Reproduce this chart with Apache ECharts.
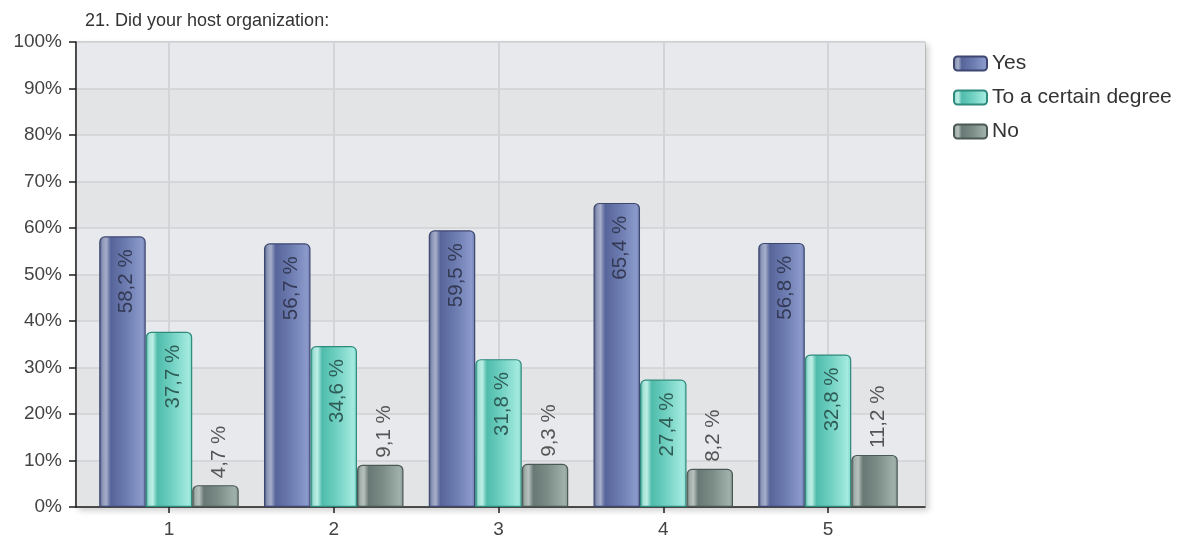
<!DOCTYPE html>
<html>
<head>
<meta charset="utf-8">
<script src="https://cdn.jsdelivr.net/npm/echarts@6/dist/echarts.min.js"></script>
<style>
  html, body { margin: 0; padding: 0; background: #ffffff; }
  #chart { width: 1182px; height: 543px; }
</style>
</head>
<body>
<div id="chart"></div>
<script>
// Survey question 21: answer shares per item
const titleText = '21. Did your host organization:';
const categories = ['1', '2', '3', '4', '5'];
const seriesNames = ['Yes', 'To a certain degree', 'No'];
const yesValues = [58.2, 56.7, 59.5, 65.4, 56.8];
const certainValues = [37.7, 34.6, 31.8, 27.4, 32.8];
const noValues = [4.7, 9.1, 9.3, 8.2, 11.2];

const FONT = '"Liberation Sans", Arial, sans-serif';

// layout of the plot: frame and the narrower band area holding the groups
const FRAME = { left: 76, right: 257, top: 42, bottom: 36 };
const BANDS = { left: 86.6, right: 271.6 };
const bandWidth = (1182 - BANDS.left - BANDS.right) / categories.length;

// horizontal gradient giving each bar a rounded, tube-like shading
function tube(stops) {
  return new echarts.graphic.LinearGradient(0, 0, 1, 0,
    stops.map(s => ({ offset: s[0], color: s[1] })));
}

const yesFill = tube([[0, '#4a5580'], [0.07, '#8c96b7'], [0.15, '#a6aeca'], [0.25, '#56649a'], [0.55, '#6b7aae'], [0.92, '#8b9acb'], [1, '#6f7eb0']]);
const certainFill = tube([[0, '#3fa596'], [0.07, '#a4e3d8'], [0.15, '#bdeee5'], [0.25, '#4fbcab'], [0.55, '#6fd0c1'], [0.92, '#a3eadf'], [1, '#7fd6c9']]);
const noFill = tube([[0, '#5c6a66'], [0.07, '#a3afab'], [0.15, '#b6c0bc'], [0.25, '#687874'], [0.55, '#7b8b86'], [0.92, '#a0b0ab'], [1, '#869792']]);

const fmt = p => p.value.toFixed(1).replace('.', ',') + ' %';

// value labels read bottom-to-top; offset is given in the rotated frame
const insideLabel = color => ({
  show: true,
  position: 'insideTop',
  distance: 12,
  rotate: 90,
  align: 'right',
  verticalAlign: 'middle',
  offset: [-1, 4],
  formatter: fmt,
  color: color,
  fontFamily: FONT,
  fontSize: 20.5
});

const chart = echarts.init(document.getElementById('chart'), null, { renderer: 'canvas' });

chart.setOption({
  animation: false,
  backgroundColor: '#ffffff',
  title: {
    text: titleText,
    left: 80,
    top: 7,
    textStyle: { fontFamily: FONT, fontSize: 18, fontWeight: 'normal', color: '#333333' }
  },
  legend: {
    orient: 'vertical',
    left: 948,
    top: 48,
    itemWidth: 33,
    itemHeight: 14,
    itemGap: 13,
    icon: 'roundRect',
    data: seriesNames,
    textStyle: { fontFamily: FONT, fontSize: 21, color: '#333333' }
  },
  grid: [
    // plotting frame: background, bands, value axis
    {
      left: FRAME.left, right: FRAME.right, top: FRAME.top, bottom: FRAME.bottom,
      show: true,
      backgroundColor: '#e5e6e9',
      borderColor: '#9a9a9a',
      borderWidth: 1,
      shadowColor: 'rgba(0,0,0,0.18)',
      shadowBlur: 6,
      shadowOffsetX: 3,
      shadowOffsetY: 3
    },
    // category bands holding the bar groups
    { left: BANDS.left, right: BANDS.right, top: FRAME.top, bottom: FRAME.bottom },
    // span from first to last category centre, for the vertical guide lines
    {
      left: BANDS.left + bandWidth / 2, right: BANDS.right + bandWidth / 2,
      top: FRAME.top, bottom: FRAME.bottom
    }
  ],
  xAxis: [
    {
      gridIndex: 0, type: 'value', min: 0, max: 1,
      axisLine: { show: true, lineStyle: { color: '#1e1e1e', width: 1.5 } },
      axisTick: { show: false }, axisLabel: { show: false }, splitLine: { show: false }
    },
    {
      gridIndex: 1, type: 'category', data: categories,
      axisLine: { show: false },
      axisTick: { show: true, alignWithLabel: true, length: 6, lineStyle: { color: '#1e1e1e', width: 1.5 } },
      axisLabel: { margin: 13, fontFamily: FONT, fontSize: 19, color: '#444444' },
      splitLine: { show: false }
    },
    {
      gridIndex: 2, type: 'value', min: 0, max: categories.length - 1, interval: 1,
      axisLine: { show: false }, axisTick: { show: false }, axisLabel: { show: false },
      splitLine: { show: true, showMinLine: true, showMaxLine: true, lineStyle: { color: '#d3d4d6', width: 2 } }
    }
  ],
  yAxis: [
    {
      gridIndex: 0, type: 'value', min: 0, max: 100, interval: 10,
      axisLine: { show: true, lineStyle: { color: '#1e1e1e', width: 1.5 } },
      axisTick: { show: true, length: 7, lineStyle: { color: '#1e1e1e', width: 1.5 } },
      axisLabel: { formatter: '{value}%', margin: 14, fontFamily: FONT, fontSize: 19, color: '#444444' },
      splitLine: { show: true, lineStyle: { color: '#d1d2d4', width: 1.5 } },
      splitArea: { show: true, areaStyle: { color: ['#e3e4e6', '#e7e9ec'] } }
    },
    { gridIndex: 1, type: 'value', min: 0, max: 100, show: false },
    { gridIndex: 2, type: 'value', min: 0, max: 100, show: false }
  ],
  series: [
    {
      name: seriesNames[0], type: 'bar', xAxisIndex: 1, yAxisIndex: 1, z: 3,
      data: yesValues, barWidth: 46.5, barGap: '0%',
      itemStyle: { color: yesFill, borderColor: '#3d4770', borderWidth: 1.2, borderRadius: [5, 5, 0, 0] },
      label: insideLabel('#343a55')
    },
    {
      name: seriesNames[1], type: 'bar', xAxisIndex: 1, yAxisIndex: 1, z: 3,
      data: certainValues, barWidth: 46.5, barGap: '0%',
      itemStyle: { color: certainFill, borderColor: '#2f8a7e', borderWidth: 1.2, borderRadius: [5, 5, 0, 0] },
      label: insideLabel('#2f5c56')
    },
    {
      name: seriesNames[2], type: 'bar', xAxisIndex: 1, yAxisIndex: 1, z: 3,
      data: noValues, barWidth: 46.5, barGap: '0%',
      itemStyle: { color: noFill, borderColor: '#4b5955', borderWidth: 1.2, borderRadius: [5, 5, 0, 0] },
      label: {
        show: true,
        position: 'top',
        distance: 9,
        rotate: 90,
        align: 'left',
        verticalAlign: 'middle',
        offset: [-2, 4],
        formatter: fmt,
        color: '#555555',
        fontFamily: FONT,
        fontSize: 20.5
      }
    }
  ]
});
</script>
</body>
</html>
